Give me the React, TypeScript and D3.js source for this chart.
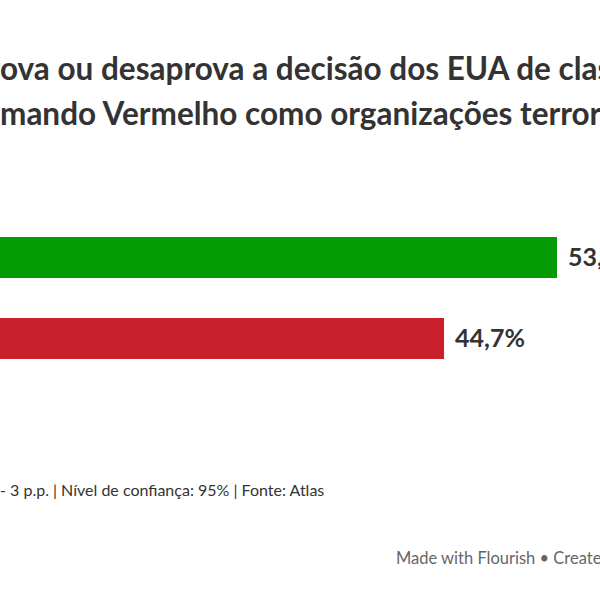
import { useEffect, useRef } from "react";
import * as d3 from "d3";

// poll answers (Atlas)
const categories = ["Aprova", "Desaprova"];
const values = [53.3, 44.7];
const barColors = ["#049b04", "#c8212c"];

const titleLines = [
  ["Você apr", "ova ou desaprova a decisão dos EUA de classificar o PCC e o"],
  ["o Co", "mando Vermelho como organizações terroristas?"],
];
const footnote = ["Margem de erro: +/", "- 3 p.p. | Nível de confiança: 95% | Fonte: Atlas"];
const credit = "Made with Flourish • Create a chart";

const W = 600;
const H = 600;
const FONT = "Lato, 'Source Sans Pro', sans-serif";

const fmt = (v: number) => d3.format(".1f")(v).replace(".", ",") + "%";

const App = () => {
  const svgRef = useRef<SVGSVGElement>(null);

  useEffect(() => {
    const svg = d3.select(svgRef.current);
    svg.selectAll("*").remove();

    svg.append("rect").attr("width", W).attr("height", H).attr("fill", "#fff");

    // title, the left part runs off the frame
    const title = svg.append("g").attr("font-family", FONT).attr("font-weight", 700)
      .attr("font-size", "31.5px").attr("fill", "#333");
    titleLines.forEach(([pre, rest], i) => {
      const y = 80 + i * 45;
      title.append("text").attr("x", 0).attr("y", y).attr("text-anchor", "end").text(pre);
      title.append("text").attr("x", 0).attr("y", y).text(rest);
    });

    const x = d3.scaleLinear().domain([0, d3.max(values) as number]).range([-143, 557]);
    const y = d3.scaleBand().domain(categories).range([237, 359]).paddingInner(0.494).paddingOuter(0);

    const rows = svg.selectAll("g.row").data(categories).enter().append("g").attr("class", "row");

    rows.append("rect")
      .attr("x", x(0))
      .attr("y", (d) => y(d) as number)
      .attr("width", (_, i) => x(values[i]) - x(0))
      .attr("height", y.bandwidth())
      .attr("fill", (_, i) => barColors[i]);

    rows.append("text")
      .attr("x", x(0) - 12)
      .attr("y", (d) => (y(d) as number) + y.bandwidth() / 2)
      .attr("dy", "0.35em")
      .attr("text-anchor", "end")
      .attr("font-family", FONT)
      .attr("font-size", "20px")
      .attr("fill", "#333")
      .text((d) => d);

    rows.append("text")
      .attr("x", (_, i) => x(values[i]) + 11)
      .attr("y", (d) => (y(d) as number) + y.bandwidth() / 2)
      .attr("dy", "0.35em")
      .attr("font-family", FONT)
      .attr("font-weight", 700)
      .attr("font-size", "25px")
      .attr("fill", "#333")
      .text((_, i) => fmt(values[i]));

    const foot = svg.append("g").attr("font-family", FONT).attr("font-size", "16px").attr("fill", "#333");
    foot.append("text").attr("x", 0).attr("y", 496).attr("text-anchor", "end").text(footnote[0]);
    foot.append("text").attr("x", 0).attr("y", 496).text(footnote[1]);

    svg.append("text")
      .attr("x", 396)
      .attr("y", 564)
      .attr("font-family", FONT)
      .attr("font-size", "16.5px")
      .attr("fill", "#666")
      .text(credit);
  }, []);

  return (
    <svg
      ref={svgRef}
      width={W}
      height={H}
      style={{ position: "absolute", left: 0, top: 0, overflow: "hidden" }}
    />
  );
};

export default App;
